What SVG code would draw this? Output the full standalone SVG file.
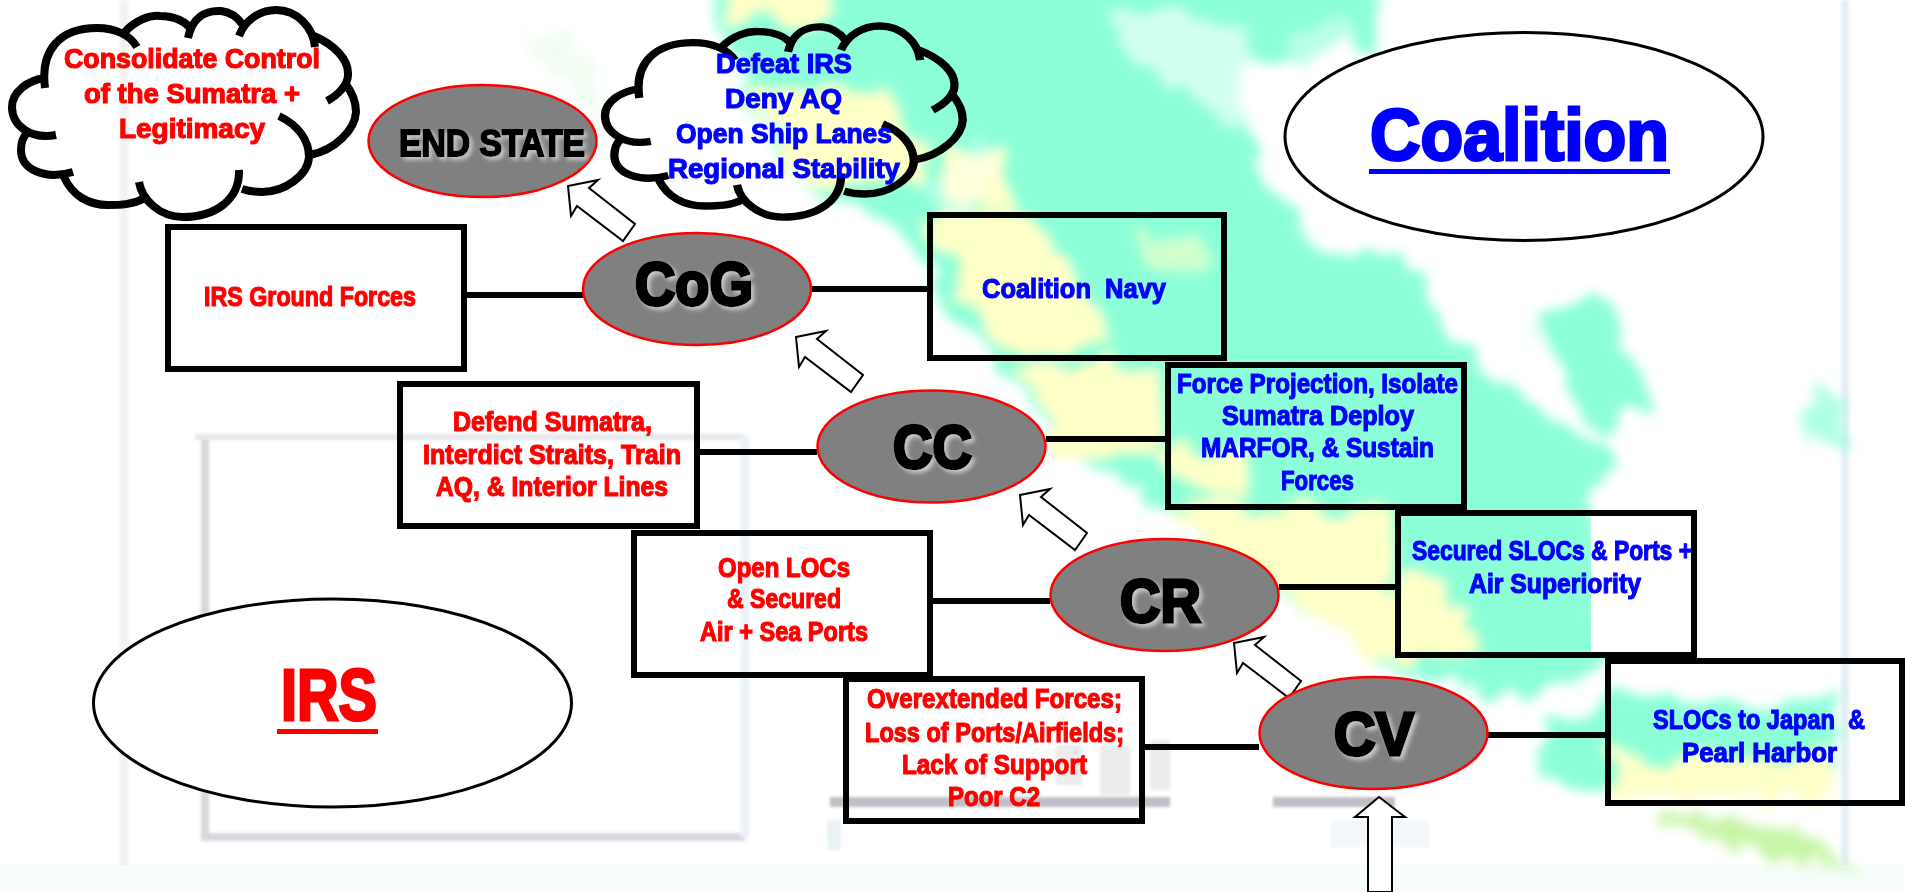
<svg xmlns="http://www.w3.org/2000/svg" width="1905" height="892" viewBox="0 0 1905 892">
<defs>
<filter id="b6" filterUnits="userSpaceOnUse" x="0" y="-40" width="1905" height="960"><feTurbulence type="fractalNoise" baseFrequency="0.025" numOctaves="3" seed="7" result="n"/><feDisplacementMap in="SourceGraphic" in2="n" scale="45" xChannelSelector="R" yChannelSelector="G"/><feGaussianBlur stdDeviation="6"/></filter>
<filter id="b2" x="-20%" y="-20%" width="140%" height="140%"><feGaussianBlur stdDeviation="1.5"/></filter>
<filter id="sh" x="-20%" y="-20%" width="140%" height="140%"><feDropShadow dx="3" dy="3" stdDeviation="2" flood-color="#c8c8c8"/></filter>
<path id="cloud" d="M45 88C40 50 60 28 97 28C115 28 130 35 137 47M124 33C135 20 150 15 160 16C175 16 187 22 191 30M188 38C192 18 205 10 221 11C232 12 238 18 243 25M239 36C245 20 260 10 276 10C298 10 313 28 315 47M314 36C335 45 349 60 348 75C348 85 338 95 327 101M345 83C352 92 356 100 356 112C355 130 335 150 310 155M279 116C298 125 309 140 309 157C308 175 285 192 262 192C255 192 248 191 242 189M239 170C240 200 215 217 183 217C160 217 142 200 139 182M145 198C132 205 120 205 108 205C88 205 72 195 64 177M73 172C45 180 21 170 21 150C21 142 23 137 27 133M56 135C30 140 12 125 12 107C12 92 28 80 45 78"/>
<path id="arrow" d="M568 186L598 180L589 188L635 224L623 241L577 206L571 216Z"/>
</defs>
<style>
.box{fill:none;stroke:#000;stroke-width:6}
.node{fill:#808080;stroke:#f00;stroke-width:2.5}
.side{fill:#fff;stroke:#000;stroke-width:3}
.con{stroke:#000;stroke-width:6;fill:none}
.ba{fill:#fff;stroke:#000;stroke-width:2}
.cl{fill:none;stroke:#000;stroke-width:8;vector-effect:non-scaling-stroke}
text{font-family:"Liberation Sans",Arial,sans-serif;font-weight:700}
.r{fill:#f00;stroke:#f00;stroke-width:1.2;font-size:28px}
.u{fill:#00f;stroke:#00f;stroke-width:1.2;font-size:28px}
.big{fill:#000;stroke:#000;stroke-width:3.5;font-size:62px;filter:url(#sh)}
</style>
<rect width="1905" height="892" fill="#fff"/>
<g id="map">
<g filter="url(#b2)" fill="none" opacity=".45">
<path d="M124 0V892" stroke="#e4e4e4" stroke-width="9"/>
<path d="M205 437V837H745" stroke="#a8a8b4" stroke-width="8"/>
<path d="M195 437H745" stroke="#c8ccd0" stroke-width="6"/>
<path d="M745 437V837" stroke="#cfe4f2" stroke-width="9"/>
<path d="M1845 0V892" stroke="#c8dcea" stroke-width="8"/>
</g>
<path d="M0 865H1905V892H0Z" fill="#f6fdfb"/>
<g filter="url(#b6)">
<path fill="#8dffd8" d="M700 -50L1376 -50L1380 40L1240 70L1242 130L1285 200L1300 240L1405 255L1460 350L1530 400L1610 450L1590 520L1610 658L1560 685L1480 690L1400 670L1340 630L1280 590L1160 505L1050 430L960 330L900 240L790 170L745 90Z"/>
<path fill="#8dffd8" d="M1530 310L1590 300L1620 340L1650 400L1610 440L1560 380Z"/>
<path fill="#8dffd8" d="M1540 725L1605 700L1835 700L1835 775L1605 785L1545 780Z"/>
<path fill="#8dffd8" d="M1808 395H1845V447H1808Z" opacity=".7"/>
<path fill="#b8f7c0" d="M520 30L570 30L610 110L590 110Z" opacity=".2"/>
<g fill="#ffffc8">
<path d="M727 -30H830V22H735Z"/>
<path d="M750 90L890 90L930 180L800 175Z"/>
<path d="M940 150H1000L1020 210L960 210Z"/>
<path d="M920 215L1030 215L1120 350L1000 350Z"/>
<path d="M1133 240H1205V268H1150Z" opacity=".6"/>
<path d="M1020 365H1160V455H1065Z"/>
<path d="M1160 450H1250V505H1205Z"/>
<path d="M1170 510H1390V590H1270Z"/>
<path d="M1280 585H1445V655H1370Z"/>
<path d="M1407 600H1475V655H1450Z"/>
<path d="M1614 758H1833V798H1614Z"/>
</g>
<g fill="#fff">
<path d="M1115 17L1250 20L1240 130L1190 90L1130 60Z" opacity=".6"/>
<path d="M1290 30L1340 20L1370 60L1300 70Z" opacity=".4"/>
<path d="M1450 300L1530 300L1560 380L1500 340Z" opacity=".8"/>
<path d="M930 190L980 130L1000 160L960 220Z" opacity=".4"/>
</g>
<path fill="#c8f5a8" d="M1650 820L1780 820L1850 870L1800 865Z"/>
</g>
<rect x="1591" y="511" width="100" height="145" fill="#fff"/>
<g fill="#8a8a96" opacity=".55" filter="url(#b2)">
<rect x="830" y="797" width="340" height="10"/>
<rect x="1273" y="797" width="122" height="10"/>
<rect x="1056" y="745" width="26" height="40" opacity=".3"/>
<rect x="1100" y="745" width="30" height="50" opacity=".3"/>
<rect x="1150" y="740" width="20" height="50" opacity=".3"/>
<rect x="827" y="820" width="14" height="30" fill="#b8cfe0" opacity=".5"/>
<rect x="1330" y="820" width="100" height="28" fill="#c4d4e4" opacity=".3"/>
</g>
</g>
<g id="connectors">
<path class="con" d="M467 295H583M811 289H927M700 452H817M1046 439H1165M933 601H1050M1279 587H1395M1145 747H1259M1488 735H1605"/>
<use href="#arrow" class="ba"/>
<use href="#arrow" class="ba" transform="translate(228 151)"/>
<use href="#arrow" class="ba" transform="translate(452 309)"/>
<use href="#arrow" class="ba" transform="translate(666 457)"/>
<path class="ba" d="M1379 797L1405 817H1392V892H1368V817H1355Z"/>
</g>
<g id="cloud-left"><use href="#cloud" class="cl"/>
<text class="r" x="64" y="68" textLength="256" lengthAdjust="spacingAndGlyphs">Consolidate Control</text>
<text class="r" x="84" y="103" textLength="216" lengthAdjust="spacingAndGlyphs">of the Sumatra +</text>
<text class="r" x="119" y="138" textLength="146" lengthAdjust="spacingAndGlyphs">Legitimacy</text></g>
<g id="cloud-right"><use href="#cloud" class="cl" transform="translate(592.5 16.8) scale(1.04 .923)"/>
<text class="u" x="716" y="73" textLength="136" lengthAdjust="spacingAndGlyphs">Defeat IRS</text>
<text class="u" x="725" y="108" textLength="117" lengthAdjust="spacingAndGlyphs">Deny AQ</text>
<text class="u" x="676" y="143" textLength="216" lengthAdjust="spacingAndGlyphs">Open Ship Lanes</text>
<text class="u" x="668" y="178" textLength="232" lengthAdjust="spacingAndGlyphs">Regional Stability</text></g>
<g id="end-state"><ellipse class="node" cx="482.5" cy="141" rx="114" ry="56"/>
<text class="big" x="399" y="156" style="font-size:37px;stroke-width:2" textLength="186" lengthAdjust="spacingAndGlyphs">END STATE</text></g>
<g id="cog"><ellipse class="node" cx="697" cy="289" rx="114" ry="56"/>
<text class="big" x="635" y="305" textLength="118" lengthAdjust="spacingAndGlyphs">CoG</text></g>
<g id="cc"><ellipse class="node" cx="931.5" cy="446.5" rx="114" ry="56"/>
<text class="big" x="893" y="468" textLength="79" lengthAdjust="spacingAndGlyphs">CC</text></g>
<g id="cr"><ellipse class="node" cx="1164.5" cy="595" rx="114" ry="56"/>
<text class="big" x="1120" y="622" textLength="81" lengthAdjust="spacingAndGlyphs">CR</text></g>
<g id="cv"><ellipse class="node" cx="1373.5" cy="733" rx="114" ry="56"/>
<text class="big" x="1334" y="755" textLength="80" lengthAdjust="spacingAndGlyphs">CV</text></g>
<g id="irs-ground"><rect class="box" x="168" y="227" width="296" height="142"/>
<text class="r" x="204" y="306" textLength="212" lengthAdjust="spacingAndGlyphs">IRS Ground Forces</text></g>
<g id="navy"><rect class="box" x="930" y="215" width="294" height="143"/>
<text class="u" x="982" y="298" textLength="184" lengthAdjust="spacingAndGlyphs" xml:space="preserve">Coalition  Navy</text></g>
<g id="defend"><rect class="box" x="400" y="384" width="297" height="142"/>
<text class="r" x="453" y="431" textLength="199" lengthAdjust="spacingAndGlyphs">Defend Sumatra,</text>
<text class="r" x="423" y="464" textLength="258" lengthAdjust="spacingAndGlyphs">Interdict Straits, Train</text>
<text class="r" x="436" y="496" textLength="232" lengthAdjust="spacingAndGlyphs">AQ, &amp; Interior Lines</text></g>
<g id="force"><rect class="box" x="1168" y="365" width="296" height="142"/>
<text class="u" x="1177" y="393" textLength="281" lengthAdjust="spacingAndGlyphs">Force Projection, Isolate</text>
<text class="u" x="1222" y="425" textLength="192" lengthAdjust="spacingAndGlyphs">Sumatra Deploy</text>
<text class="u" x="1201" y="457" textLength="233" lengthAdjust="spacingAndGlyphs">MARFOR, &amp; Sustain</text>
<text class="u" x="1281" y="490" textLength="73" lengthAdjust="spacingAndGlyphs">Forces</text></g>
<g id="open-locs"><rect class="box" x="634" y="533" width="296" height="142"/>
<text class="r" x="718" y="577" textLength="132" lengthAdjust="spacingAndGlyphs">Open LOCs</text>
<text class="r" x="727" y="608" textLength="114" lengthAdjust="spacingAndGlyphs">&amp; Secured</text>
<text class="r" x="700" y="641" textLength="168" lengthAdjust="spacingAndGlyphs">Air + Sea Ports</text></g>
<g id="secured"><rect class="box" x="1398" y="513" width="296" height="142"/>
<text class="u" x="1412" y="560" textLength="280" lengthAdjust="spacingAndGlyphs">Secured SLOCs &amp; Ports +</text>
<text class="u" x="1469" y="593" textLength="172" lengthAdjust="spacingAndGlyphs">Air Superiority</text></g>
<g id="overextended"><rect class="box" x="846" y="679" width="296" height="142"/>
<text class="r" x="867" y="708" textLength="255" lengthAdjust="spacingAndGlyphs">Overextended Forces;</text>
<text class="r" x="865" y="742" textLength="259" lengthAdjust="spacingAndGlyphs">Loss of Ports/Airfields;</text>
<text class="r" x="902" y="774" textLength="185" lengthAdjust="spacingAndGlyphs">Lack of Support</text>
<text class="r" x="948" y="806" textLength="92" lengthAdjust="spacingAndGlyphs">Poor C2</text></g>
<g id="slocs"><rect class="box" x="1608" y="661" width="294" height="142"/>
<text class="u" x="1653" y="729" textLength="212" lengthAdjust="spacingAndGlyphs" xml:space="preserve">SLOCs to Japan  &amp;</text>
<text class="u" x="1682" y="762" textLength="155" lengthAdjust="spacingAndGlyphs">Pearl Harbor</text></g>
<g id="coalition"><ellipse class="side" cx="1524" cy="136.5" rx="239" ry="104"/>
<text x="1370" y="160" textLength="299" lengthAdjust="spacingAndGlyphs" style="font-size:72px;fill:#00f;stroke:#00f;stroke-width:3">Coalition</text>
<rect x="1369" y="169" width="301" height="5" fill="#00f"/></g>
<g id="irs"><ellipse class="side" cx="332.5" cy="703" rx="239" ry="104"/>
<text x="281" y="720" textLength="96" lengthAdjust="spacingAndGlyphs" style="font-size:72px;fill:#f00;stroke:#f00;stroke-width:3">IRS</text>
<rect x="277" y="729" width="101" height="5" fill="#f00"/></g>
</svg>
